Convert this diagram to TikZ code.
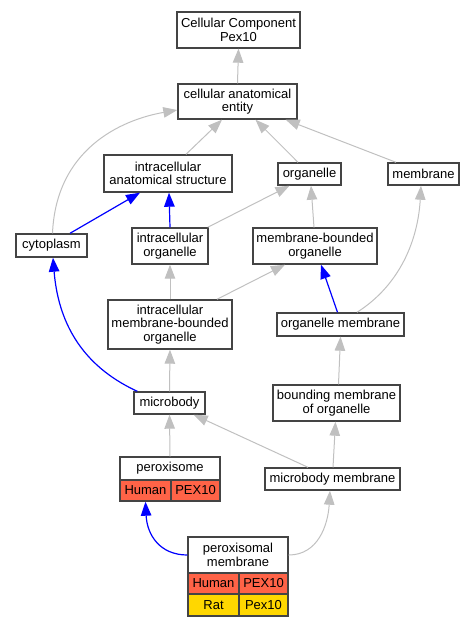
\documentclass[tikz,border=0pt]{standalone}
\usepackage{fontspec}
\setmainfont{Liberation Sans}
\usetikzlibrary{arrows.meta}
\definecolor{tomatoc}{HTML}{FF6347}
\definecolor{goldc}{HTML}{FFD700}
\definecolor{edgegray}{HTML}{C0C0C0}
\definecolor{bordc}{HTML}{444444}
\begin{document}
\begin{tikzpicture}[x=1pt,y=-1pt,
  box/.style={draw=bordc,line width=1.4pt,fill=white,inner sep=0pt,align=center,
    font=\fontsize{13}{13.5}\selectfont},
  cell/.style={box,fill=tomatoc},
  ycell/.style={box,fill=goldc},
  gedge/.style={draw=edgegray,line width=1pt,-{Triangle[length=14pt,width=10.5pt]}},
  bedge/.style={draw=blue,line width=1.2pt,-{Triangle[length=14pt,width=10.5pt]}}]
\useasboundingbox (0,0) rectangle (473,627);
% nodes
\node[box,minimum width=123,minimum height=36] (cc) at (238.5,30) {Cellular Component\\Pex10};
\node[box,minimum width=119,minimum height=35] (cae) at (237.5,101.5) {cellular anatomical\\entity};
\node[box,minimum width=128,minimum height=37] (ias) at (168,173.5) {intracellular\\anatomical structure};
\node[box,minimum width=63,minimum height=22] (org) at (309.5,174) {organelle};
\node[box,minimum width=71,minimum height=22] (mem) at (423.5,174) {membrane};
\node[box,minimum width=71,minimum height=23] (cyto) at (51.5,245.5) {cytoplasm};
\node[box,minimum width=76,minimum height=36] (io) at (170,246) {intracellular\\organelle};
\node[box,minimum width=124,minimum height=36] (mbo) at (315,246) {membrane-bounded\\organelle};
\node[box,minimum width=124,minimum height=49] (imbo) at (170,324.5) {intracellular\\membrane-bounded\\organelle};
\node[box,minimum width=127,minimum height=23] (om) at (340.5,324.5) {organelle membrane};
\node[box,minimum width=71,minimum height=22] (mb) at (169.5,403) {microbody};
\node[box,minimum width=127,minimum height=36] (bmo) at (336.5,403) {bounding membrane\\of organelle};
\node[box,minimum width=135,minimum height=22] (mbm) at (332.5,479) {microbody membrane};
% peroxisome table
\node[box,minimum width=100,minimum height=23] (perox) at (170,468.5) {peroxisome};
\node[cell,minimum width=51,minimum height=21] (peroxh) at (145.5,490.5) {Human};
\node[cell,minimum width=49,minimum height=21] (peroxg) at (195.5,490.5) {PEX10};
% peroxisomal membrane table
\node[box,minimum width=100,minimum height=36] (pm) at (238,555) {peroxisomal\\membrane};
\node[cell,minimum width=51,minimum height=21] (pmh) at (213.5,583.5) {Human};
\node[cell,minimum width=49,minimum height=21] (pmg) at (263.5,583.5) {PEX10};
\node[ycell,minimum width=51,minimum height=22] (pmr) at (213.5,605) {Rat};
\node[ycell,minimum width=49,minimum height=22] (pmrg) at (263.5,605) {Pex10};
% edges
\draw[gedge] (cae.north) -- (cc.south);
\draw[gedge] ([xshift=1pt]cyto.north) .. controls (56,150) and (120,120) .. ([yshift=-8.5pt]cae.west);
\draw[gedge] ([xshift=18pt]ias.north) -- ([xshift=-15.5pt]cae.south);
\draw[gedge] ([xshift=-11.5pt]org.north) -- ([xshift=18pt]cae.south);
\draw[gedge] ([xshift=-27.5pt]mem.north) -- ([xshift=-12pt]cae.south east);
\draw[bedge] ([xshift=18.5pt]cyto.north) -- ([xshift=-28pt]ias.south);
\draw[bedge] (io.north) -- ([xshift=1pt]ias.south);
\draw[gedge] ([xshift=-1pt]io.north east) -- ([xshift=-20pt]org.south);
\draw[gedge] ([xshift=-1pt]mbo.north) -- ([xshift=1.5pt]org.south);
\draw[gedge] ([xshift=16.5pt]om.north) .. controls (400,285) and (418,240) .. ([xshift=-2.5pt]mem.south);
\draw[gedge] (imbo.north) -- (io.south);
\draw[gedge] ([xshift=47pt]imbo.north) -- ([xshift=-30pt]mbo.south);
\draw[bedge] ([xshift=-3pt]om.north) -- ([xshift=6pt]mbo.south);
\draw[bedge] ([xshift=4pt]mb.north west) .. controls (80,365) and (58,320) .. ([xshift=1.5pt]cyto.south);
\draw[gedge] (mb.north) -- (imbo.south);
\draw[gedge] ([xshift=2pt]bmo.north) -- (om.south);
\draw[gedge] (perox.north) -- (mb.south);
\draw[gedge] ([xshift=-24.5pt]mbm.north) -- ([xshift=-12pt]mb.south east);
\draw[gedge] ([xshift=0.5pt]mbm.north) -- ([xshift=-1pt]bmo.south);
\draw[bedge] (pm.west) .. controls (160,555) and (147,535) .. (peroxh.south);
\draw[gedge] (pm.east) .. controls (318,555) and (328,525) .. ([xshift=-2.5pt]mbm.south);
\end{tikzpicture}
\end{document}
